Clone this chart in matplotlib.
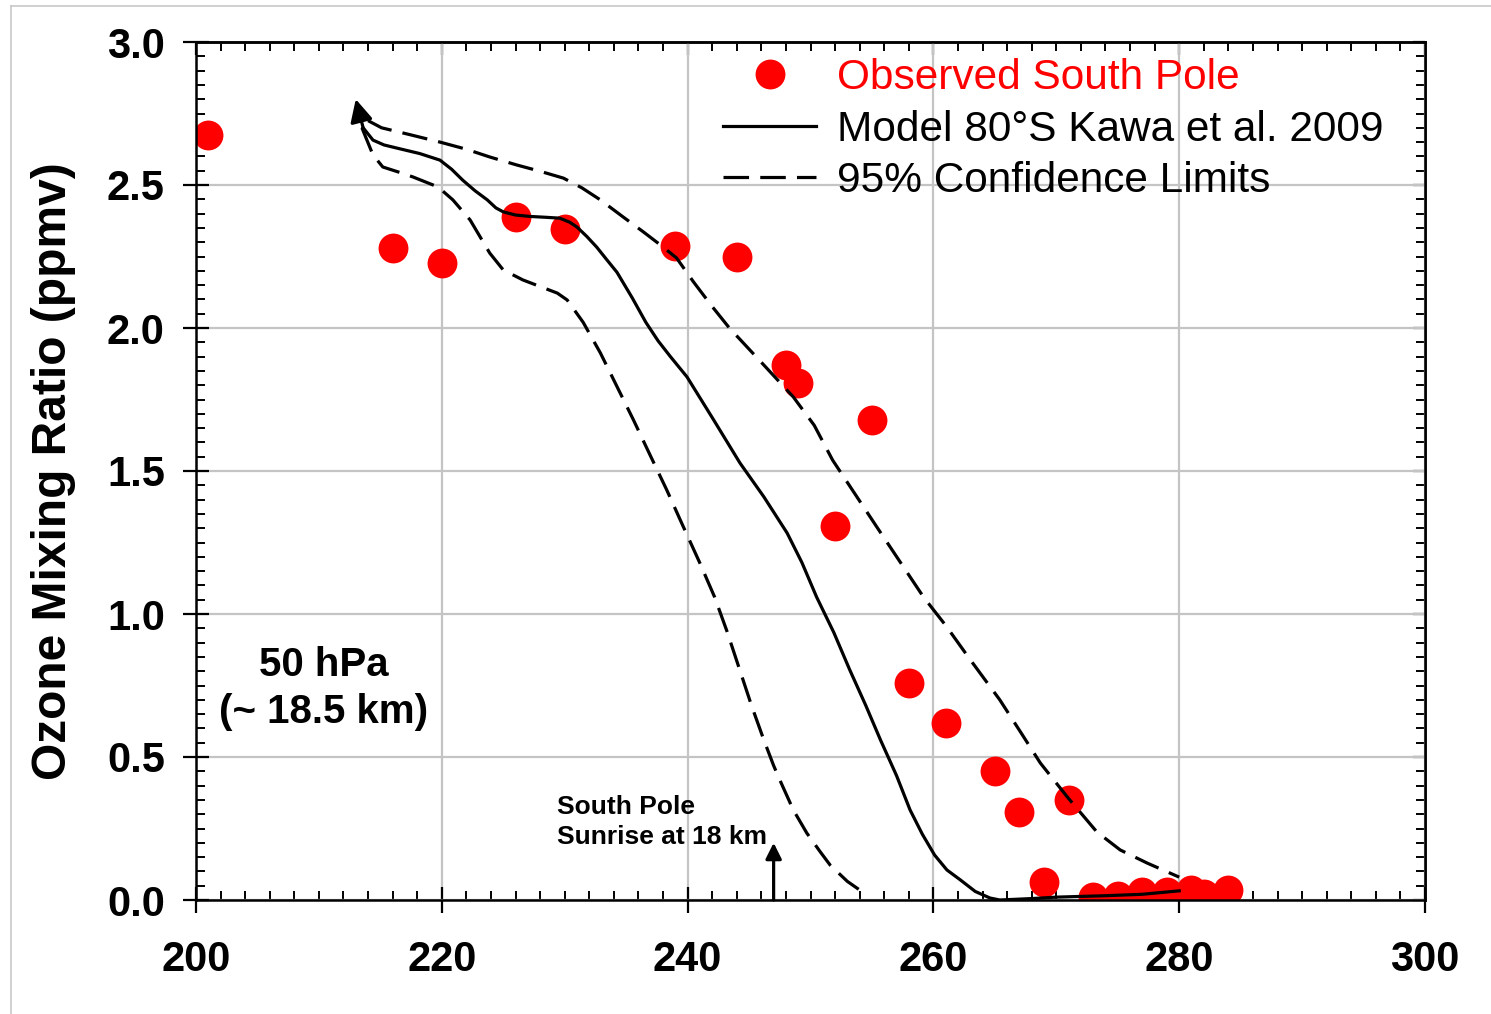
import numpy as np
import matplotlib
matplotlib.use("Agg")
import matplotlib.pyplot as plt
from matplotlib.lines import Line2D

plt.rcParams['font.family'] = ['Liberation Sans', 'DejaVu Sans']

# =====================================================
# DATA
# =====================================================

# observed south pole ozone (day of year, ppmv)
obs_day = [201, 216, 220, 226, 230, 239, 244, 248, 249, 252, 255,
           258, 261, 265, 267, 269, 271, 273, 275, 277, 279, 281, 282, 284]
obs_o3 = [2.675, 2.28, 2.227, 2.388, 2.346, 2.287, 2.248, 1.87, 1.808, 1.308, 1.678,
          0.759, 0.619, 0.451, 0.308, 0.063, 0.35, 0.01, 0.014, 0.028, 0.028, 0.035, 0.02, 0.035]

# model 80S (Kawa et al. 2009)
mod_day = [213.6, 214.4, 215.3, 216.35, 218.2, 219.85, 220.8, 221.7, 222.7, 223.7,
           224.4, 225.0, 226.0, 227.2, 228.5, 229.6, 230.4, 231.0, 231.8, 232.6,
           233.4, 234.25, 235.5, 236.6, 237.6, 238.6, 239.95, 242.1, 244.26, 246.2,
           248.1, 249.3, 250.5, 251.9, 253.2, 254.5, 255.7, 257.0, 258.1, 259.1,
           260.1, 261.1, 262.2, 263.4, 264.6, 265.4, 268.0, 270.0, 274.0, 277.0, 280.0]
mod_o3 = [2.70, 2.657, 2.64, 2.629, 2.61, 2.587, 2.555, 2.517, 2.48, 2.448,
          2.42, 2.406, 2.395, 2.39, 2.387, 2.384, 2.37, 2.353, 2.32, 2.283,
          2.24, 2.195, 2.105, 2.02, 1.955, 1.90, 1.829, 1.68, 1.528, 1.41,
          1.283, 1.18, 1.059, 0.935, 0.804, 0.68, 0.559, 0.435, 0.315, 0.23,
          0.157, 0.105, 0.07, 0.03, 0.007, 0.0, 0.005, 0.01, 0.015, 0.02, 0.032]
mod_start = (213.0, 2.80)   # arrow tip at start of the model curve

# 95% confidence limits
up_day = [214.0, 215.1, 217.5, 219.85, 222.0, 223.9, 226.1, 228.0, 229.9, 231.4,
          232.9, 234.7, 236.4, 237.8, 239.1, 240.5, 242.0, 243.4, 246.0, 248.6,
          250.3, 251.8, 255.4, 259.2, 261.0, 263.0, 265.4, 267.2, 268.7, 270.9,
          273.3, 275.2, 277.4, 280.0]
up_o3 = [2.725, 2.70, 2.675, 2.65, 2.625, 2.598, 2.57, 2.548, 2.524, 2.49,
         2.448, 2.39, 2.336, 2.29, 2.245, 2.16, 2.075, 2.0, 1.88, 1.759,
         1.66, 1.538, 1.304, 1.059, 0.96, 0.84, 0.70, 0.58, 0.479, 0.36,
         0.238, 0.175, 0.129, 0.08]

lo_day = [213.5, 214.4, 215.2, 216.5, 217.66, 219.7, 220.9, 222.3, 223.1, 223.9,
          225.0, 226.6, 228.0, 229.4, 230.2, 231.5, 232.9, 234.2, 235.6, 236.9,
          238.3, 239.6, 241.0, 242.2, 243.2, 244.2, 245.2, 246.2, 247.0, 247.5,
          248.6, 249.7, 250.8, 251.6, 253.0, 254.0]
lo_o3 = [2.70, 2.605, 2.563, 2.545, 2.528, 2.493, 2.448, 2.378, 2.32, 2.262,
         2.203, 2.168, 2.145, 2.122, 2.098, 2.02, 1.913, 1.80, 1.678, 1.56,
         1.434, 1.31, 1.178, 1.059, 0.94, 0.81, 0.68, 0.56, 0.47, 0.42,
         0.315, 0.234, 0.168, 0.122, 0.065, 0.035]

sunrise_day = 247

# =====================================================
# FIGURE
# =====================================================

fig = plt.figure(figsize=(14.91, 10.14), dpi=100)
ax = fig.add_axes([196/1491, 1-900/1014, (1425-196)/1491, (900-42)/1014])

ax.set_xlim(200, 300)
ax.set_ylim(0, 3.0)

ax.grid(True, which='major', color='#c4c4c4', lw=1.6, zorder=0)

dash = (0, (8, 3.5))
ax.plot(up_day, up_o3, color='k', lw=2.3, ls=dash, zorder=3)
ax.plot(lo_day, lo_o3, color='k', lw=2.3, ls=dash, zorder=3)
ax.plot(mod_day, mod_o3, color='k', lw=2.3, zorder=3)
ax.plot(obs_day, obs_o3, 'o', color='#ff0000', ms=21.5, mec='none', zorder=2)

# arrowhead at start of the model curve
ax.annotate('', xy=mod_start, xytext=(mod_day[0], mod_o3[0]),
            arrowprops=dict(arrowstyle='-|>', color='k', lw=2.3, mutation_scale=34,
                            shrinkA=0, shrinkB=0), zorder=4)

# sunrise arrow
ax.annotate('', xy=(sunrise_day, 0.2), xytext=(sunrise_day, 0.0),
            arrowprops=dict(arrowstyle='-|>', color='k', lw=2.3, mutation_scale=24,
                            shrinkA=0, shrinkB=0), zorder=4)
ax.text(229.4, 0.368, 'South Pole\nSunrise at 18 km', fontsize=19, fontweight='bold',
        ha='left', va='top', linespacing=1.35)

ax.text(210.4, 0.738, '50 hPa\n(~ 18.5 km)', fontsize=29, fontweight='bold',
        ha='center', va='center', linespacing=1.3)

# =====================================================
# AXES / TICKS
# =====================================================

ax.set_xticks(np.arange(200, 301, 20))
ax.set_xticks(np.arange(200, 301, 2), minor=True)
ax.set_yticks(np.arange(0, 3.01, 0.5))
ax.set_yticks(np.arange(0, 3.001, 0.05), minor=True)
ax.set_yticklabels(['%.1f' % v for v in np.arange(0, 3.01, 0.5)])

ax.tick_params(which='major', direction='inout', length=19, width=1.6,
               labelsize=30, pad=13)
ax.tick_params(which='minor', direction='in', length=6.5, width=1.4)
ax.tick_params(axis='x', which='major', pad=19)
for lab in ax.get_xticklabels() + ax.get_yticklabels():
    lab.set_fontweight('bold')

# top / right ticks pointing in only
top = ax.secondary_xaxis('top')
top.set_xticks(np.arange(200, 301, 20))
top.set_xticks(np.arange(200, 301, 2), minor=True)
top.tick_params(which='major', direction='in', length=9, width=1.6, labeltop=False)
top.tick_params(which='minor', direction='in', length=6.5, width=1.4)
right = ax.secondary_yaxis('right')
right.set_yticks(np.arange(0, 3.01, 0.5))
right.set_yticks(np.arange(0, 3.001, 0.05), minor=True)
right.tick_params(which='major', direction='in', length=9, width=1.6, labelright=False)
right.tick_params(which='minor', direction='in', length=6.5, width=1.4)

for sp in list(ax.spines.values()) + [top.spines['top'], right.spines['right']]:
    sp.set_linewidth(1.8)

ax.set_ylabel('Ozone Mixing Ratio (ppmv)', fontsize=34.5, fontweight='bold', labelpad=22)

# =====================================================
# LEGEND
# =====================================================

handles = [
    Line2D([], [], marker='o', ls='none', color='#ff0000', ms=21.5, mec='none'),
    Line2D([], [], color='k', lw=2.3),
    Line2D([], [], color='k', lw=2.3, ls=dash),
]
labels = ['Observed South Pole', 'Model 80\u00b0S Kawa et al. 2009', '95% Confidence Limits']
leg = ax.legend(handles, labels, loc='upper left', bbox_to_anchor=(0.4288, 0.981),
                frameon=False, fontsize=30.5, handlelength=2.2, handletextpad=0.5,
                labelspacing=0.27, borderpad=0, borderaxespad=0)
leg.get_texts()[0].set_color('#ff0000')

# thin border of the original slide
fig.add_artist(Line2D([11/1491, 11/1491], [0, 1-6/1014], color='#c8c8c8', lw=1.2))
fig.add_artist(Line2D([11/1491, 1], [1-6/1014, 1-6/1014], color='#c8c8c8', lw=1.2))

fig.savefig('out.png', dpi=100)
